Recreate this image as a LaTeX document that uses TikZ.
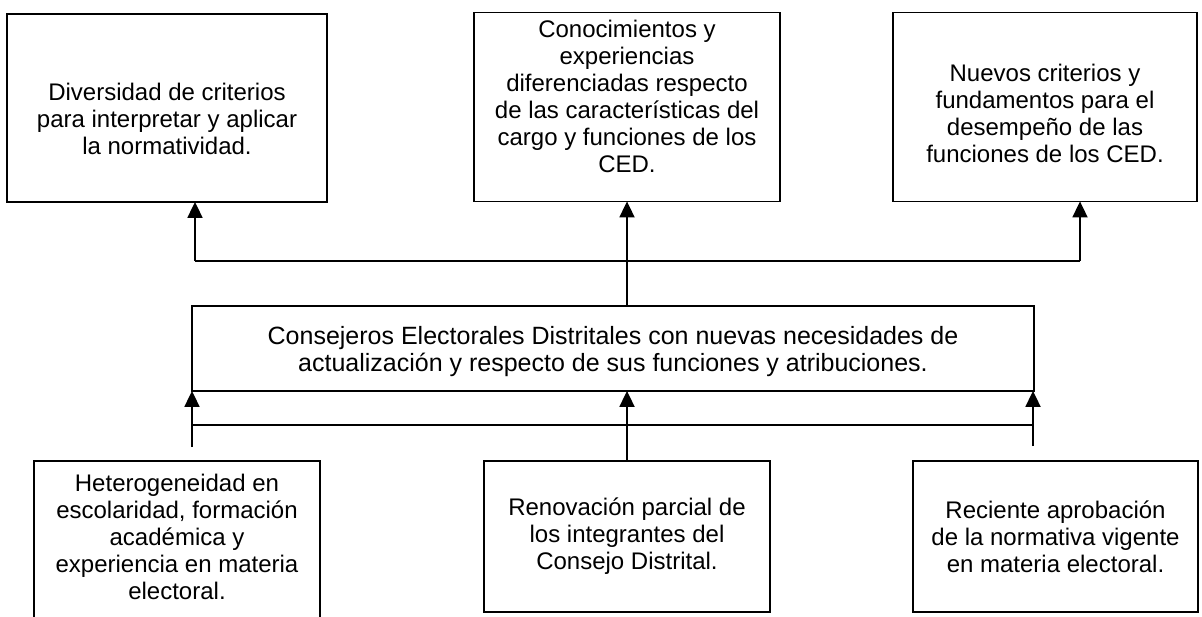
\documentclass[tikz,border=0pt]{standalone}
\usepackage{fontspec}
\setmainfont{Liberation Sans}
\usetikzlibrary{arrows.meta}
\begin{document}
\begin{tikzpicture}[x=1pt,y=-1pt,
  box/.style={draw=black, line width=1.8pt, rectangle, inner sep=0pt},
  txt/.style={align=center, inner sep=0pt, font=\fontsize{24}{27}\selectfont},
  bigtxt/.style={txt, font=\fontsize{25}{27}\selectfont},
  link/.style={draw=black, line width=1.8pt},
  arr/.style={link, -{Triangle[width=15pt,length=16pt]}, shorten >=-1pt}]
\clip (0,0) rectangle (1202,616);
\fill[white] (0,0) rectangle (1202,616);
% top boxes
\node[box, minimum width=320pt, minimum height=188pt] (A) at (167,108) {};
\node[txt] (At) at ([yshift=-11pt]A.center) {Diversidad de criterios\\para interpretar y aplicar\\la normatividad.};
\node[box, minimum width=306pt, minimum height=189pt] (B) at (627,107) {};
\node[txt] (Bt) at ([yshift=11pt]B.center) {Conocimientos y\\experiencias\\diferenciadas respecto\\de las características del\\cargo y funciones de los\\CED.};
\node[box, minimum width=304pt, minimum height=189pt] (C) at (1045,107) {};
\node[txt] (Ct) at ([yshift=-6pt]C.center) {Nuevos criterios y\\fundamentos para el\\desempeño de las\\funciones de los CED.};
% center box
\node[box, minimum width=842pt, minimum height=85pt] (M) at (613,348.5) {};
\node[bigtxt] (Mt) at ([yshift=-3pt]M.center) {Consejeros Electorales Distritales con nuevas necesidades de\\actualización y respecto de sus funciones y atribuciones.};
% bottom boxes
\node[box, minimum width=286pt, minimum height=190pt] (L1) at (177,556) {};
\node[txt] (L1t) at (177,537) {Heterogeneidad en\\escolaridad, formación\\académica y\\experiencia en materia\\electoral.};
\node[box, minimum width=286pt, minimum height=151pt] (L2) at (627,536.5) {};
\node[txt] (L2t) at (L2.center) {Renovación parcial de\\los integrantes del\\Consejo Distrital.};
\node[box, minimum width=285pt, minimum height=151pt] (L3) at (1055.5,536.5) {};
\node[txt] (L3t) at (L3.center) {Reciente aprobación\\de la normativa vigente\\en materia electoral.};
% top connectors
\coordinate (TL) at (195,261);
\coordinate (TR) at (1080,261);
\draw[link] (TL) -- (TR);
\draw[arr] (TL) -- (TL |- A.south);
\draw[arr] (TR) -- (TR |- C.south);
\draw[arr] (M.north -| B.south) -- (B.south);
% bottom connectors
\coordinate (BL) at (192,425);
\coordinate (BR) at (1033,425);
\coordinate (BLe) at (192,447);
\coordinate (BRe) at (1033,446);
\draw[link] (BL) -- (BR);
\draw[arr] (BLe) -- (BLe |- M.south);
\draw[arr] (BRe) -- (BRe |- M.south);
\draw[arr] (L2.north) -- (L2.north |- M.south);
\end{tikzpicture}
\end{document}
